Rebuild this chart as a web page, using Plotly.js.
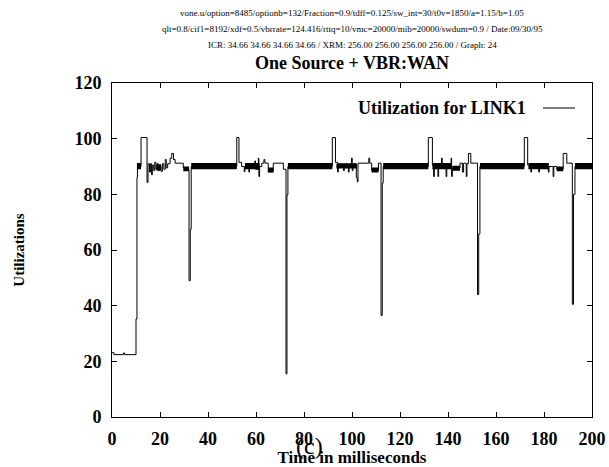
<!DOCTYPE html>
<html><head><meta charset="utf-8">
<script src="https://cdn.plot.ly/plotly-3.0.1.min.js"></script>
<style>html,body{margin:0;padding:0;background:#fff}</style>
</head><body><div id="chart" style="width:609px;height:467px"></div>
<script>
// Utilization for LINK1 (step trace), time in ms
const timeMs = [0, 0.8, 4.8, 5.3, 10.0, 10.4, 10.6, 12.1, 14.6, 15.0, 15.6, 16.0, 16.5, 16.8, 17.4, 17.8, 18.3, 18.8, 19.3, 19.8, 20.4, 21.0, 21.6, 22.2, 22.6, 23.2, 24.2, 24.9, 25.6, 26.3, 29.7, 31.0, 32.1, 32.6, 33.0,
  52.0, 52.9, 54.0, 55.1, 55.4, 57.0, 57.3, 59.5, 59.8, 61.0, 61.2, 61.5, 62.4, 63.3, 63.7, 65.1, 67.2, 71.4, 72.5, 72.9, 73.3,
  91.8, 93.1, 94.0, 94.3, 96.5, 96.8, 98.5, 98.8, 99.8, 100.1, 100.4, 101.8, 102.2, 102.5, 107.0, 107.4, 108.2, 111.0, 112.1, 112.6, 113.0,
  131.8, 133.5, 134.0, 134.3, 135.8, 136.1, 137.3, 137.6, 139.2, 139.5, 141.3, 141.5, 141.8, 145.0, 146.0, 146.5, 147.6, 147.9, 148.5, 149.5, 152.3, 152.8, 153.3,
  171.8, 173.2, 174.5, 174.8, 177.8, 178.1, 181.8, 182.1, 183.8, 184.1, 185.3, 188.0, 189.5, 191.8, 192.3, 192.9, 200];
const utilization = [23.1, 22.4, 23.0, 22.4, 35.2, 86, 90, 100.4, 84.3, 91, 88, 91, 87, 90.5, 88.5, 91.5, 89, 91, 88.5, 90, 88.3, 91, 89, 92.5, 89.5, 91, 93, 94.7, 92.5, 91.2, 89.6, 88.8, 49, 67.5, 90,
  100.4, 91.5, 90, 88.1, 90, 88, 90, 92, 89, 93, 86.4, 90, 91.2, 92.5, 91.2, 88.1, 91.2, 89, 15.5, 79.8, 90,
  100.4, 91.5, 88, 91, 88.5, 91, 88, 91, 93, 88.5, 91, 86, 84.5, 91.2, 93, 91.2, 88.5, 91.2, 36.5, 84, 90,
  100.4, 90.5, 86.4, 90.5, 86.4, 90.5, 93, 90, 86.4, 90, 93, 86.4, 89.5, 91.2, 88, 91.2, 86.4, 91, 94.7, 91.2, 44, 65.8, 90,
  100.4, 90.5, 88, 90, 88, 90, 88, 90, 86.4, 90, 89, 94.7, 91.2, 40.5, 80, 90, 90];

// Regions of very fast oscillation (drawn solid in the reference)
const bandStart = [10.4, 18.5, 29.7, 33.0, 55.4, 65.1, 73.3, 93.5, 108.2, 113.0, 133.5, 141.8, 153.3, 173.5, 185.3, 192.9];
const bandEnd   = [12.1, 20.5, 32.1, 52.0, 61.5, 67.2, 91.8, 102.0, 111.0, 131.8, 141.5, 145.0, 171.8, 182.0, 188.0, 200];
const bandLow   = [89.0, 88.6, 88.3, 89.0, 89.0, 87.8, 89.0, 89.3, 87.8, 89.0, 89.0, 88.5, 89.0, 89.0, 88.3, 89.0];
const bandHigh  = [91.3, 90.8, 90.0, 91.3, 91.3, 89.6, 91.3, 91.0, 89.6, 91.3, 91.3, 90.3, 91.3, 91.3, 90.0, 91.3];

const xTickVals = [0, 20, 40, 60, 80, 100, 120, 140, 160, 180, 200];
const yTickVals = [0, 20, 40, 60, 80, 100, 120];

const headerLines = [
  "vone.u/option=8485/optionb=132/Fraction=0.9/tdff=0.125/sw_int=30/t0v=1850/a=1.15/b=1.05",
  "qlt=0.8/cif1=8192/xdf=0.5/vbrrate=124.416/rttq=10/vmc=20000/mib=20000/swdum=0.9 / Date:09/30/95",
  "ICR: 34.66 34.66 34.66 34.66 / XRM: 256.00 256.00 256.00 256.00 / Graph: 24"
];
const chartTitle = "One Source + VBR:WAN";
const seriesName = "Utilization for LINK1";

const bx = [], by = [];
for (let i = 0; i < bandStart.length; i++) {
  bx.push(bandStart[i], bandEnd[i], bandEnd[i], bandStart[i], bandStart[i], null);
  by.push(bandLow[i], bandLow[i], bandHigh[i], bandHigh[i], bandLow[i], null);
}

const serif = "Liberation Serif, Times New Roman, serif";
const PT = 83, PB = 417, PL = 112, PR = 592;
const py = p => (PB - p) / (PB - PT);
const px = p => (p - PL) / (PR - PL);

const traces = [
  {x: bx, y: by, type: 'scatter', mode: 'lines', fill: 'toself', fillcolor: '#000',
   line: {width: 0, color: '#000'}, hoverinfo: 'skip', showlegend: false},
  {x: timeMs, y: utilization, type: 'scatter', mode: 'lines', name: seriesName,
   line: {shape: 'hv', color: '#000', width: 1}, showlegend: false}
];

const annotations = headerLines.map((t, i) => ({
  text: t, xref: 'paper', yref: 'paper', x: 0.5, y: py(13 + 16 * i),
  xanchor: 'center', yanchor: 'middle', showarrow: false,
  font: {family: serif, size: 9, color: '#000'}
}));
annotations.push({
  text: seriesName, xref: 'paper', yref: 'paper', x: px(528), y: py(108),
  xanchor: 'right', yanchor: 'middle', showarrow: false,
  font: {family: serif, size: 18, color: '#000', weight: 700}
});
annotations.push({
  text: "(c)", xref: 'paper', yref: 'paper', x: px(309), y: py(446),
  xanchor: 'center', yanchor: 'middle', showarrow: false,
  font: {family: serif, size: 24, color: '#000'}
});

const axisCommon = {
  showline: true, linecolor: '#000', linewidth: 1, mirror: 'ticks',
  ticks: 'inside', ticklen: 5, tickcolor: '#000', tickwidth: 1,
  showgrid: false, zeroline: false,
  tickfont: {family: serif, size: 18, color: '#000', weight: 700}
};

const layout = {
  width: 609, height: 467,
  margin: {l: PL, r: 609 - PR, t: PT, b: 467 - PB, pad: 0},
  paper_bgcolor: '#fff', plot_bgcolor: '#fff',
  showlegend: false,
  title: {text: chartTitle, x: 0.5, xref: 'paper', y: 1 - 63 / 467, yref: 'container',
          xanchor: 'center', yanchor: 'middle',
          font: {family: serif, size: 18, color: '#000', weight: 700}},
  xaxis: Object.assign({}, axisCommon, {
    range: [0, 200], tickvals: xTickVals, ticklabelstandoff: 5,
    title: {text: 'Time in milliseconds', standoff: 3,
            font: {family: serif, size: 17, color: '#000', weight: 700}}
  }),
  yaxis: Object.assign({}, axisCommon, {
    range: [0, 120], tickvals: yTickVals, ticklabelstandoff: 6,
    title: {text: 'Utilizations', standoff: 46,
            font: {family: serif, size: 15, color: '#000', weight: 700}}
  }),
  annotations: annotations,
  shapes: [{type: 'line', xref: 'paper', yref: 'paper', x0: px(543), x1: px(575),
            y0: py(108), y1: py(108), line: {color: '#000', width: 1}}]
};

Plotly.newPlot('chart', traces, layout, {staticPlot: true, displayModeBar: false});
</script></body></html>
